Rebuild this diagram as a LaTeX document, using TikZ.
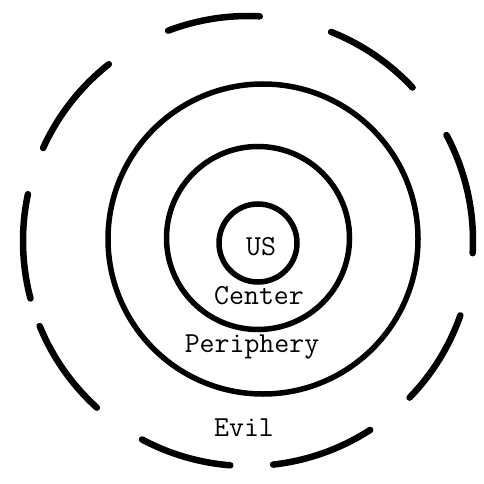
\documentclass[tikz,border=0pt]{standalone}
\usepackage{tikz}

\begin{document}
\begin{tikzpicture}[x=1pt,y=-1pt,ring/.style={line width=5.5pt},evilring/.style={line width=6.5pt,line cap=round},lbl/.style={font=\fontsize{29}{30}\selectfont\ttfamily,anchor=base,inner sep=0pt}]
\useasboundingbox (0,0) rectangle (483,484);
% the three solid rings
\draw[ring] (258,243) circle[radius=39];
\draw[ring] (258,238) circle[radius=91.5];
\draw[ring] (263,239) circle[radius=155];
% broken outer ring
\foreach \a/\b in {-110.8/-87,-68.3/-43,-28.1/3.1,19.3/44.1,57.1/83.6,94.5/118.1,132.2/157.8,165.2/192,204.4/231.8}
  \draw[evilring] ([shift={(248,241)}]\a:225) arc[start angle=\a,end angle=\b,radius=225];
\node[lbl] (us) at (261,255) {US};
\node[lbl] (center) at (259,304) {Center};
\node[lbl] (periphery) at (252,352) {Periphery};
\node[lbl] (evil) at (244,436) {Evil};
\end{tikzpicture}
\end{document}
